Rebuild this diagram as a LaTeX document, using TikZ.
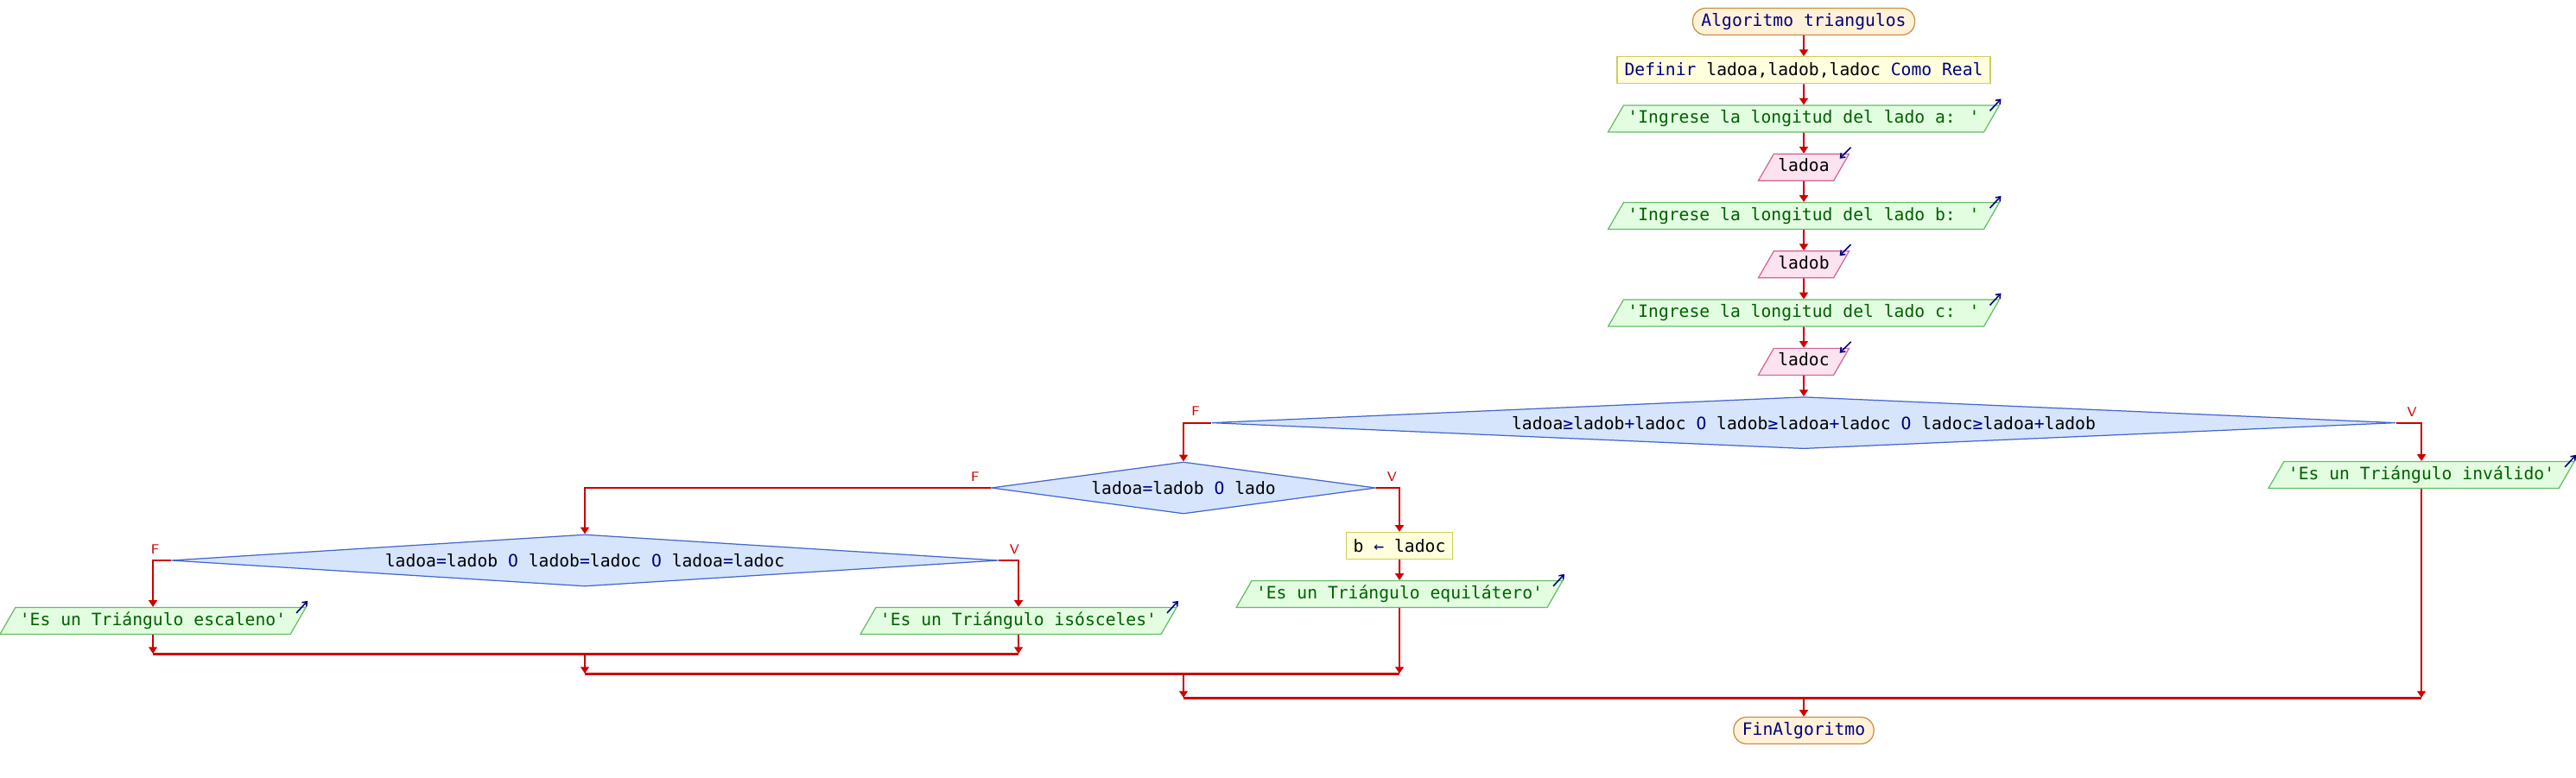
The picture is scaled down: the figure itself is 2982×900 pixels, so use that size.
\documentclass[tikz,border=0pt]{standalone}
\usepackage{fontspec}
\usepackage{xcolor}
\usepackage{tikz}
\usetikzlibrary{shapes, arrows.meta, positioning}

\newfontfamily\psefont{DejaVu Sans Mono}[Ligatures=TeXOff]

\definecolor{flowred}{HTML}{CC0000}
\definecolor{kwblue}{HTML}{000080}
\definecolor{strgreen}{HTML}{006000}
\definecolor{termfill}{HTML}{FFF2D9}
\definecolor{termline}{HTML}{C89040}
\definecolor{deffill}{HTML}{FFFFDD}
\definecolor{defline}{HTML}{D0CC60}
\definecolor{outfill}{HTML}{E2FDE0}
\definecolor{outdraw}{HTML}{66BB66}
\definecolor{infill}{HTML}{FDE2EF}
\definecolor{indraw}{HTML}{CC6699}
\definecolor{decfill}{HTML}{D6E4FC}
\definecolor{decdraw}{HTML}{4466CC}

\newcommand{\kw}[1]{\textcolor{kwblue}{#1}}

\begin{document}
\begin{tikzpicture}[
    x=0.01cm, y=-0.01cm,
    font=\psefont\fontsize{5.6}{6.7}\selectfont,
    terminal/.style={rectangle, rounded corners=0.15cm, draw=termline, fill=termfill,
                text=kwblue, line width=0.35pt, minimum height=0.31cm, inner xsep=0.1cm, inner ysep=0},
    defbox/.style={rectangle, draw=defline, fill=deffill, line width=0.35pt,
                minimum height=0.31cm, inner xsep=0.085cm, inner ysep=0},
    outbox/.style={trapezium, trapezium left angle=60, trapezium right angle=120,
                draw=outdraw, fill=outfill, text=strgreen, line width=0.35pt,
                text height=0.15cm, text depth=0.05cm, inner xsep=0.05cm, inner ysep=0.055cm},
    inbox/.style={outbox, draw=indraw, fill=infill, text=black},
    decision/.style={diamond, draw=decdraw, fill=decfill, line width=0.35pt,
                inner sep=0, minimum height=0.6cm},
    flow/.style={draw=flowred, line width=0.55pt, -{Triangle[length=2.2pt, width=2.8pt]}},
    joinline/.style={draw=flowred, line width=0.85pt},
    iomark/.style={draw=kwblue, line width=0.45pt, -{Straight Barb[length=1.3pt, width=2pt]}},
    branchlbl/.style={text=flowred, font=\sffamily\fontsize{4.4}{5}\selectfont, inner sep=0}
]
\useasboundingbox (0,0) rectangle (2982,900);

% === MAIN COLUMN ===
\node[terminal] (start) at (2088,25) {Algoritmo triangulos};
\node[defbox, below=0.24cm of start] (def) {\kw{Definir} ladoa,ladob,ladoc \kw{Como Real}};
\node[outbox, below=0.24cm of def] (ina) {'Ingrese la longitud del lado a: '};
\node[inbox, below=0.24cm of ina] (ladoa) {ladoa};
\node[outbox, below=0.24cm of ladoa] (inb) {'Ingrese la longitud del lado b: '};
\node[inbox, below=0.24cm of inb] (ladob) {ladob};
\node[outbox, below=0.24cm of ladob] (inc) {'Ingrese la longitud del lado c: '};
\node[inbox, below=0.24cm of inc] (ladoc) {ladoc};
\node[decision, minimum width=13.7cm, shape aspect=20, below=0.24cm of ladoc] (d1)
    {ladoa\kw{≥}ladob\kw{+}ladoc \kw{O} ladob\kw{≥}ladoa\kw{+}ladoc \kw{O} ladoc\kw{≥}ladoa\kw{+}ladob};

% === BRANCHES ===
\node[outbox] (invalid) at (2803,550) {'Es un Triángulo inválido'};
\node[decision, minimum width=4.45cm, shape aspect=7] (d2) at (1370,565)
    {ladoa\kw{=}ladob \kw{O} lado};
\node[defbox] (assign) at (1620,632) {b \kw{←} ladoc};
\node[outbox] (equil) at (1620,688) {'Es un Triángulo equilátero'};
\node[decision, minimum width=9.57cm, shape aspect=15] (d3) at (677,649)
    {ladoa\kw{=}ladob \kw{O} ladob\kw{=}ladoc \kw{O} ladoa\kw{=}ladoc};
\node[outbox] (esc) at (177,719) {'Es un Triángulo escaleno'};
\node[outbox] (iso) at (1179,719) {'Es un Triángulo isósceles'};
\node[terminal] (fin) at (2088,846) {FinAlgoritmo};

\coordinate (j3) at (677,757);
\coordinate (j2) at (1370,780);
\coordinate (j1) at (2088,808);

% === BRANCH LABELS ===
\node[branchlbl] (d1f) at ([shift={(-18,-13)}]d1.west) {F};
\node[branchlbl] (d1v) at ([shift={(18,-13)}]d1.east) {V};
\node[branchlbl] (d2f) at ([shift={(-18,-13)}]d2.west) {F};
\node[branchlbl] (d2v) at ([shift={(18,-13)}]d2.east) {V};
\node[branchlbl] (d3f) at ([shift={(-18,-13)}]d3.west) {F};
\node[branchlbl] (d3v) at ([shift={(18,-13)}]d3.east) {V};

% === ARROWS ===
\draw[flow] (start) -- (def);
\draw[flow] (def) -- (ina);
\draw[flow] (ina) -- (ladoa);
\draw[flow] (ladoa) -- (inb);
\draw[flow] (inb) -- (ladob);
\draw[flow] (ladob) -- (inc);
\draw[flow] (inc) -- (ladoc);
\draw[flow] (ladoc) -- (d1);
\draw[flow] (d1.east) -| (invalid.north);
\draw[flow] (d1.west) -| (d2.north);
\draw[flow] (d2.east) -| (assign.north);
\draw[flow] (assign) -- (equil);
\draw[flow] (d2.west) -| (d3.north);
\draw[flow] (d3.west) -| (esc.north);
\draw[flow] (d3.east) -| (iso.north);

% joins
\draw[flow] (esc.south) -- (esc.south |- j3);
\draw[flow] (iso.south) -- (iso.south |- j3);
\draw[joinline] (esc.south |- j3) -- (iso.south |- j3);
\draw[flow] (j3) -- (j3 |- j2);
\draw[flow] (equil.south) -- (equil.south |- j2);
\draw[joinline] (j3 |- j2) -- (equil.south |- j2);
\draw[flow] (j2) -- (j2 |- j1);
\draw[flow] (invalid.south) -- (invalid.south |- j1);
\draw[joinline] (j2 |- j1) -- (invalid.south |- j1);
\draw[flow] (j1) -- (fin);

% in/out marks
\draw[iomark] ([shift={(-12,7)}]ina.top right corner) -- ++(13,-14);
\draw[iomark] ([shift={(-12,7)}]inb.top right corner) -- ++(13,-14);
\draw[iomark] ([shift={(-12,7)}]inc.top right corner) -- ++(13,-14);
\draw[iomark] ([shift={(-12,7)}]invalid.top right corner) -- ++(13,-14);
\draw[iomark] ([shift={(-12,7)}]equil.top right corner) -- ++(13,-14);
\draw[iomark] ([shift={(-12,7)}]esc.top right corner) -- ++(13,-14);
\draw[iomark] ([shift={(-12,7)}]iso.top right corner) -- ++(13,-14);
\draw[iomark] ([shift={(1,-7)}]ladoa.top right corner) -- ++(-13,13);
\draw[iomark] ([shift={(1,-7)}]ladob.top right corner) -- ++(-13,13);
\draw[iomark] ([shift={(1,-7)}]ladoc.top right corner) -- ++(-13,13);

\end{tikzpicture}
\end{document}
